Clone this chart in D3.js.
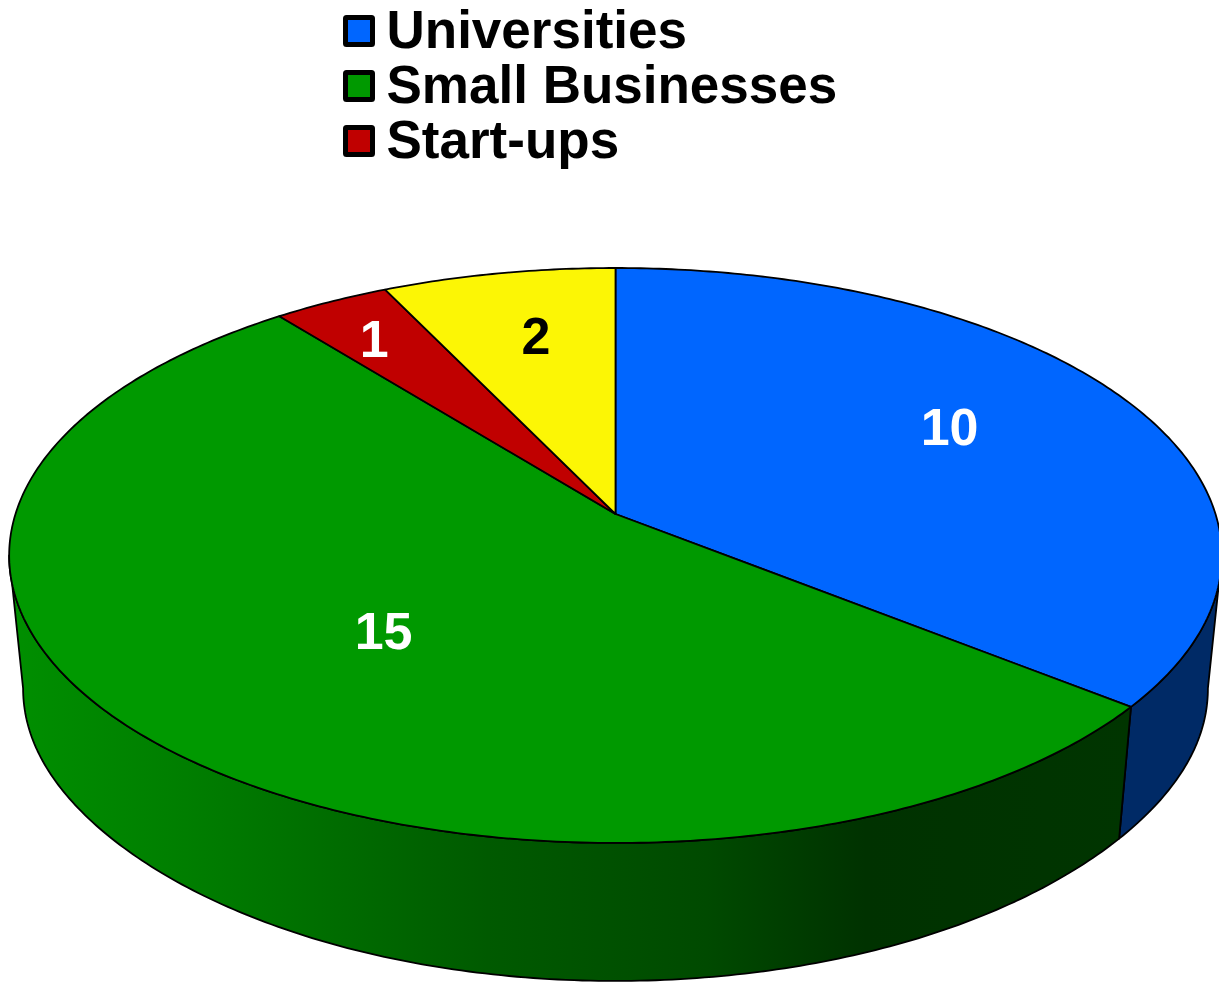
<!DOCTYPE html>
<html>
<head>
<meta charset="utf-8">
<script src="https://cdn.jsdelivr.net/npm/d3@7"></script>
<style>
  html, body { margin: 0; padding: 0; background: #fff; overflow: hidden; }
  svg { display: block; }
  text { font-family: "Liberation Sans", Arial, sans-serif; font-weight: 700; }
</style>
</head>
<body>
<svg id="chart" width="1219" height="982"></svg>
<script>
// Funding recipients, clockwise from twelve o'clock.
const categories = ["Universities", "Small Businesses", "Start-ups", "Other"];
const counts = [10, 15, 1, 2];
const legendEntries = ["Universities", "Small Businesses", "Start-ups"];

const topColors = ["#0066ff", "#009900", "#c00000", "#fcf605"];
const labelColors = ["#fff", "#fff", "#fff", "#000"];
const wallColors = ["#002a66", "url(#greenWall)", "#600000", "#7d7a00"];
// Fine placement of each value label relative to its slice's anchor point.
const labelNudges = [[-3.5, -11], [63.5, -22], [-49, -32], [0, -15]];

// Perspective disc: apex position, half-axes and foreshortening strength.
const apex = { x: 615.5, y: 514 };
const discA = 600, discB = 281.5, tilt = 0.1443;
const shell = { sx: 0.977, sy: 1.059, dy: 121, pivotY: 555, sideDrop: 13 };

const project = (angle, r = 1) => {
  const X = Math.sin(angle) * r, Y = Math.cos(angle) * r, w = 1 + tilt * Y;
  return [apex.x + discA * X / w, apex.y - discB * Y / w];
};
// Lower rim of the disc; its flanks sag a little further than the front does.
const projectLower = (angle) => {
  const [x, y] = project(angle);
  return [
    apex.x + (x - apex.x) * shell.sx,
    shell.pivotY + shell.dy + (y - shell.pivotY) * shell.sy + shell.sideDrop * Math.pow(Math.sin(angle), 8)
  ];
};

const svg = d3.select("#chart");
const wallGradient = svg.append("defs").append("linearGradient")
  .attr("id", "greenWall").attr("gradientUnits", "userSpaceOnUse")
  .attr("x1", 0).attr("x2", 1219).attr("y1", 0).attr("y2", 0);
[[0, "#009000"], [0.16, "#007d00"], [0.4, "#005a00"], [0.58, "#004a00"], [0.71, "#003200"], [0.93, "#003500"]]
  .forEach(([o, c]) => wallGradient.append("stop").attr("offset", o).attr("stop-color", c));

const arcs = d3.pie().sort(null).value(d => d)(counts);
const line = d3.line();

const arcAngles = (a0, a1) => {
  const n = Math.max(2, Math.ceil((a1 - a0) / 0.012));
  return d3.range(n + 1).map(i => a0 + (a1 - a0) * i / n);
};

// Visible outer wall: only the front part of the disc, between its two silhouette angles.
const silhouetteLo = Math.acos(-tilt), silhouetteHi = 2 * Math.PI - silhouetteLo;
svg.append("g").selectAll("path")
  .data(arcs.filter(a => a.endAngle > silhouetteLo && a.startAngle < silhouetteHi))
  .join("path")
  .attr("d", a => {
    const angles = arcAngles(Math.max(a.startAngle, silhouetteLo), Math.min(a.endAngle, silhouetteHi));
    return line(angles.map(t => project(t)).concat(angles.slice().reverse().map(projectLower))) + "Z";
  })
  .attr("fill", a => wallColors[a.index])
  .attr("stroke", "#000").attr("stroke-width", 1.8).attr("stroke-linejoin", "round");

// Top face slices.
svg.append("g").selectAll("path")
  .data(arcs)
  .join("path")
  .attr("d", a => line([[apex.x, apex.y]].concat(arcAngles(a.startAngle, a.endAngle).map(t => project(t)))) + "Z")
  .attr("fill", a => topColors[a.index])
  .attr("stroke", "#000").attr("stroke-width", 1.8).attr("stroke-linejoin", "round");

// Value labels.
svg.append("g").selectAll("text")
  .data(arcs)
  .join("text")
  .attr("x", a => project((a.startAngle + a.endAngle) / 2, 0.65)[0] + labelNudges[a.index][0])
  .attr("y", a => project((a.startAngle + a.endAngle) / 2, 0.65)[1] + labelNudges[a.index][1])
  .attr("dy", "0.36em")
  .attr("text-anchor", "middle")
  .attr("font-size", 52)
  .attr("fill", a => labelColors[a.index])
  .text(a => a.data);

// Legend.
const legendY = d3.scaleLinear().domain([0, 1]).range([31, 86]);
const legend = svg.append("g").selectAll("g")
  .data(legendEntries)
  .join("g")
  .attr("transform", (d, i) => `translate(0,${legendY(i)})`);
legend.append("rect")
  .attr("x", 345.5).attr("y", -13.5).attr("width", 27).attr("height", 27).attr("rx", 1)
  .attr("fill", (d, i) => topColors[i])
  .attr("stroke", "#000").attr("stroke-width", 5);
legend.append("text")
  .attr("x", 386.5).attr("y", 16.5)
  .attr("font-size", 53)
  .attr("fill", "#000")
  .text(d => d);
</script>
</body>
</html>
